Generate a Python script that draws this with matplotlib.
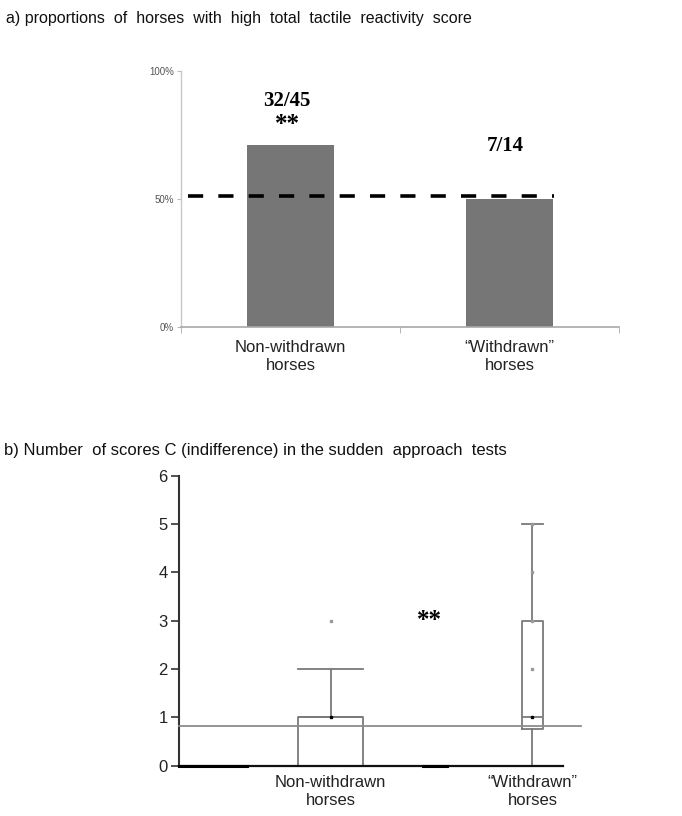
import matplotlib
matplotlib.use("Agg")
import matplotlib.pyplot as plt

# ---- data ----
groups = ["Non-withdrawn\nhorses", "\u201cWithdrawn\u201d\nhorses"]
proportions = [32 / 45, 7 / 14]
bar_labels = ["32/45", "7/14"]
chance_level = 0.51
pct_ticks = [0, 0.5, 1.0]
pct_ticklabels = ["0%", "50%", "100%"]

box_q1 = [0, 0.75]
box_med = [1, 1]
box_q3 = [1, 3]
box_whislo = [0, 0]
box_whishi = [2, 5]
box_points = [[3], [4, 3, 2, 5]]
ref_line = 0.83
count_ticks = [0, 1, 2, 3, 4, 5, 6]

plt.rcParams['font.family'] = ['Liberation Sans', 'DejaVu Sans']

fig = plt.figure(figsize=(6.82, 8.16), dpi=100)
W, H = 682, 816

def ax_rect(l, r, t, b):
    return [l / W, 1 - b / H, (r - l) / W, (b - t) / H]

# ---- panel a ----
ax1 = fig.add_axes(ax_rect(181, 619, 70.7, 327.3))
xpos = list(range(len(groups)))
ax1.bar(xpos, proportions, width=0.4, color="#767676", zorder=2)
ax1.plot([-0.468, 1.204], [chance_level, chance_level], color="black", lw=2.6,
         linestyle=(0, (4.2, 4.2)), zorder=3)
ax1.set_xlim(-0.5, 1.5)
ax1.set_ylim(0, 1)
ax1.set_yticks(pct_ticks)
ax1.set_yticklabels(pct_ticklabels, fontsize=7, color="#555555")
ax1.tick_params(axis="y", length=3, color="#bbbbbb", pad=2)
ax1.set_xticks(xpos)
ax1.set_xticklabels(groups, fontsize=12, color="#222222", linespacing=1.25)
ax1.tick_params(axis="x", length=0, pad=9)
ax1.set_xticks([-0.5, 0.5, 1.5], minor=True)
ax1.tick_params(axis="x", which="minor", length=4, color="#aaaaaa")
for s in ["top", "right"]:
    ax1.spines[s].set_visible(False)
ax1.spines["left"].set_color("#c8c8c8")
ax1.spines["bottom"].set_color("#a8a8a8")
ax1.spines["left"].set_linewidth(1.0)
ax1.spines["bottom"].set_linewidth(1.2)

ax1.text(-0.015, 0.88, bar_labels[0], ha="center", va="center", fontsize=15,
         fontweight="bold", family="Liberation Serif")
ax1.text(-0.015, 0.79, "**", ha="center", va="center", fontsize=18,
         fontweight="bold", family="Liberation Serif")
ax1.text(0.98, 0.706, bar_labels[1], ha="center", va="center", fontsize=15,
         fontweight="bold", family="Liberation Serif")

fig.text(6 / W, 1 - 18 / H, "a) proportions  of  horses  with  high  total  tactile  reactivity  score",
         fontsize=11.5, ha="left", va="center", color="#111111")

# ---- panel b ----
ax2 = fig.add_axes(ax_rect(178.7, 563, 475.7, 765.7))
positions = [1, 2]
widths = [0.32, 0.107]
stats = []
for i in range(len(groups)):
    stats.append(dict(med=box_med[i], q1=box_q1[i], q3=box_q3[i],
                      whislo=box_whislo[i], whishi=box_whishi[i], fliers=[]))
gray = "#7a7a7a"
ax2.bxp(stats, positions=positions, widths=widths, capwidths=widths,
        showfliers=False, patch_artist=False,
        boxprops=dict(color=gray, lw=1.3),
        whiskerprops=dict(color=gray, lw=1.3),
        capprops=dict(color=gray, lw=1.3),
        medianprops=dict(color=gray, lw=1.3))
for p, pts in zip(positions, box_points):
    ax2.plot([p] * len(pts), pts, linestyle="none", marker="s", ms=1.6,
             color="#999999", zorder=4)
ax2.plot(positions, box_med, linestyle="none", marker="s", ms=1.6,
         color="black", zorder=5)
ax2.plot([0.2485, 2.2386], [ref_line, ref_line], color="#8c8c8c", lw=1.3,
         clip_on=False, zorder=3)
# short thick segments on the axis
ax2.plot([0.2485, 0.585], [0, 0], color="black", lw=2.2, clip_on=False, zorder=6)
ax2.plot([1.458, 1.577], [0, 0], color="black", lw=2.2, clip_on=False, zorder=6)

ax2.set_xlim(0.2485, 2.151)
ax2.set_ylim(0, 6)
ax2.set_yticks(count_ticks)
ax2.set_yticklabels([str(t) for t in count_ticks], fontsize=12, color="#222222")
ax2.tick_params(axis="y", length=6, width=1.2, color="#333333", pad=2)
ax2.set_xticks(positions)
ax2.set_xticklabels(groups, fontsize=12, color="#222222", linespacing=1.25)
ax2.tick_params(axis="x", length=0, pad=7)
for s in ["top", "right"]:
    ax2.spines[s].set_visible(False)
ax2.spines["left"].set_color("#333333")
ax2.spines["bottom"].set_color("#111111")
ax2.spines["left"].set_linewidth(1.5)
ax2.spines["bottom"].set_linewidth(1.6)

ax2.text(1.49, 3.0, "**", ha="center", va="center", fontsize=18,
         fontweight="bold", family="Liberation Serif")

fig.text(4 / W, 1 - 450 / H, "b) Number  of scores C (indifference) in the sudden  approach  tests",
         fontsize=12, ha="left", va="center", color="#111111")

fig.savefig("out.png", dpi=100)
